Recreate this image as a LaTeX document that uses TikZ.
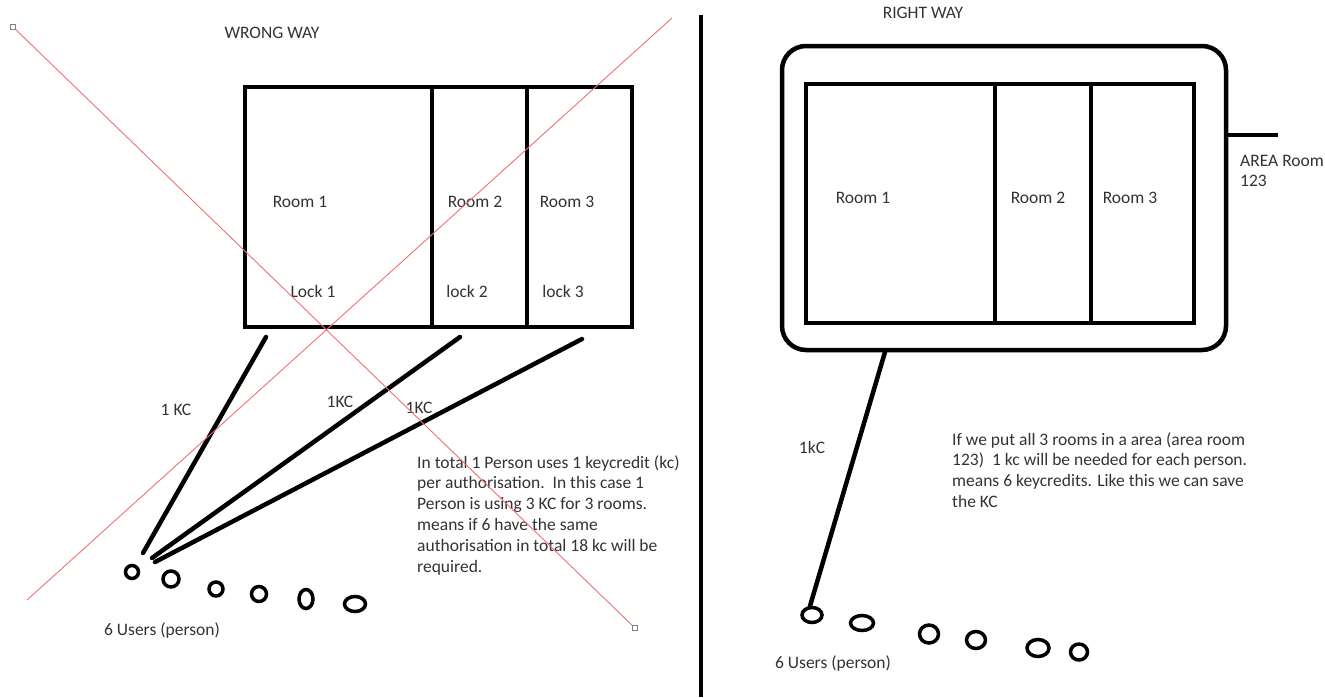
\documentclass[tikz,border=0pt]{standalone}
\usepackage{fontspec}
\setmainfont{Carlito}
\usetikzlibrary{shapes.geometric}
\definecolor{txt}{HTML}{333333}
\definecolor{redx}{HTML}{F07070}
\begin{document}
\begin{tikzpicture}[x=1pt,y=-1pt,
  thick line/.style={line width=4.5pt,line cap=round},
  boxline/.style={line width=4.5pt},
  user/.style={draw,line width=3.5pt,ellipse,inner sep=0pt},
  lbl/.style={text=txt,font=\fontsize{17.5}{20.8}\selectfont,inner sep=0pt},
  para/.style={text=txt,font=\fontsize{17.5}{20.8}\selectfont,inner sep=0pt,align=left,anchor=north west},
  crossline/.style={draw=redx,line width=0.9pt},
  handle/.style={draw=gray,line width=0.8pt,fill=white,minimum size=5pt,inner sep=0pt,rectangle}]
\useasboundingbox (0,0) rectangle (1325,697);
% ---------- LEFT: WRONG WAY ----------
\node[lbl] (wtitle) at (272,33) {WRONG WAY};
\draw[boxline] (245,87) rectangle (632,327);
\draw[boxline] (432,87) -- (432,327);
\draw[boxline] (527,87) -- (527,327);
\node[lbl] (r1) at (300,202) {Room 1};
\node[lbl] (r2) at (475,202) {Room 2};
\node[lbl] (r3) at (567,202) {Room 3};
\node[lbl] (l1) at (313,291) {Lock 1};
\node[lbl] (l2) at (467,291) {lock 2};
\node[lbl] (l3) at (563,291) {lock 3};
\coordinate (s1) at (266,337);
\coordinate (s2) at (460,337);
\coordinate (s3) at (582,339);
\coordinate (e1) at (143,553);
\coordinate (e2) at (152,558);
\coordinate (e3) at (155,562);
\draw[thick line] (s1) -- (e1);
\draw[thick line] (s2) -- (e2);
\draw[thick line] (s3) -- (e3);
\node[lbl] (k1) at (176,410) {1 KC};
\node[lbl] (k2) at (340,402) {1KC};
\node[lbl] (k3) at (419,408) {1KC};
\node[user,minimum width=13pt,minimum height=13pt] (u1) at (132,572) {};
\node[user,minimum width=16pt,minimum height=16pt] (u2) at (171,579) {};
\node[user,minimum width=14pt,minimum height=14pt] (u3) at (216,589) {};
\node[user,minimum width=15pt,minimum height=15pt] (u4) at (259,594) {};
\node[user,minimum width=14pt,minimum height=19pt] (u5) at (306,599) {};
\node[user,minimum width=21pt,minimum height=15pt] (u6) at (355,604) {};
\node[lbl] (users) at (162,630) {6 Users (person)};
\node[para] (ptxt) at (417,455) {In total 1 Person uses 1 keycredit (kc)\\per authorisation.\ \ In this case 1\\Person is using 3 KC for 3 rooms.\\means if 6 have the same\\authorisation in total 18 kc will be\\required.};
% red cross
\node[handle] (h1) at (13,27) {};
\node[handle] (h2) at (635,628) {};
\draw[crossline] (h1) -- (h2);
\coordinate (c1) at (27,600);
\coordinate (c2) at (672,18);
\draw[crossline] (c1) -- (c2);
% ---------- divider ----------
\coordinate (d1) at (701,15);
\coordinate (d2) at (701,697);
\draw[line width=4pt] (d1) -- (d2);
% ---------- RIGHT: RIGHT WAY ----------
\node[lbl] (rtitle) at (923,13) {RIGHT WAY};
\draw[boxline,rounded corners=24pt] (782,46) rectangle (1226,350);
\draw[boxline] (806,84) rectangle (1194,323);
\draw[boxline] (995,84) -- (995,323);
\draw[boxline] (1091,84) -- (1091,323);
\coordinate (a1) at (1226,135);
\coordinate (a2) at (1278,135);
\draw[boxline] (a1) -- (a2);
\node[lbl,anchor=west,align=left] (area) at (1240,171) {AREA Room\\123};
\node[lbl] (rr1) at (863,198) {Room 1};
\node[lbl] (rr2) at (1038,198) {Room 2};
\node[lbl] (rr3) at (1130,198) {Room 3};
\coordinate (rs) at (885,352);
\draw[thick line] (rs) -- (810,606);
\node[lbl] (rk) at (812,447) {1kC};
\node[user,minimum width=20pt,minimum height=15pt] (v1) at (812,615) {};
\node[user,minimum width=23pt,minimum height=15pt] (v2) at (862,623) {};
\node[user,minimum width=19pt,minimum height=18pt] (v3) at (929,634) {};
\node[user,minimum width=19pt,minimum height=17pt] (v4) at (976,640) {};
\node[user,minimum width=22pt,minimum height=17pt] (v5) at (1038,648) {};
\node[user,minimum width=17pt,minimum height=16pt] (v6) at (1079,652) {};
\node[lbl] (rusers) at (833,663) {6 Users (person)};
\node[para] (rtxt) at (952,432) {If we put all 3 rooms in a area (area room\\123)\ \ 1 kc will be needed for each person.\\means 6 keycredits. Like this we can save\\the KC};
\end{tikzpicture}
\end{document}
